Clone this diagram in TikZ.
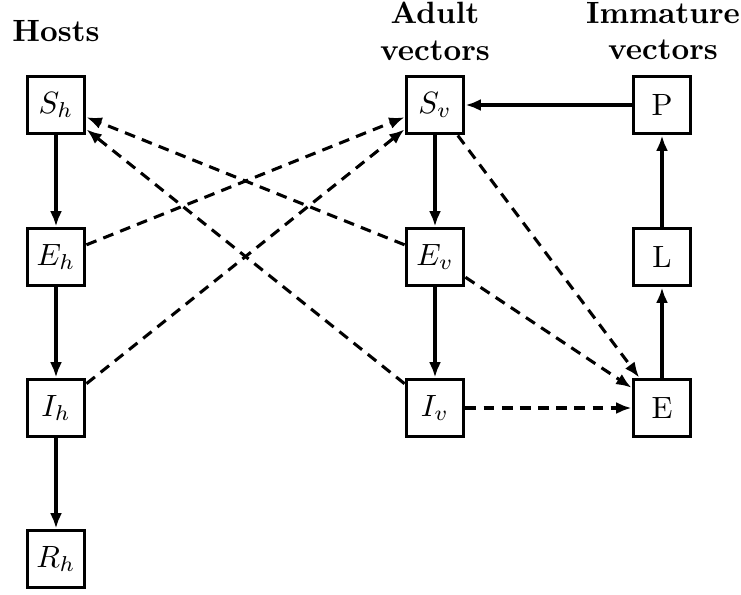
\documentclass[tikz,border=0pt]{standalone}
\usetikzlibrary{arrows.meta}
\begin{document}
\begin{tikzpicture}[x=0.325pt,y=-0.325pt,
  box/.style={draw,line width=1pt,minimum size=18.8pt,inner sep=0pt},
  flow/.style={-{Latex[length=5pt,width=3.9pt]},line width=1pt},
  infect/.style={flow,dash pattern=on 3.5pt off 2.4pt},
  hdr/.style={font=\bfseries,align=center}]
\useasboundingbox (0,0) rectangle (741,594);
% headers
\node[hdr] (hh) at (56,31) {Hosts};
\node[hdr] (ha) at (435,31) {Adult\\vectors};
\node[hdr] (hi) at (663,31) {Immature\\vectors};
% host boxes
\node[box] (Sh) at (56,105) {$S_h$};
\node[box] (Eh) at (56,257) {$E_h$};
\node[box] (Ih) at (56,408) {$I_h$};
\node[box] (Rh) at (56,559) {$R_h$};
% adult vector boxes
\node[box] (Sv) at (435,105) {$S_v$};
\node[box] (Ev) at (435,257) {$E_v$};
\node[box] (Iv) at (435,408) {$I_v$};
% immature boxes
\node[box] (P) at (662,105) {P};
\node[box] (L) at (662,257) {L};
\node[box] (E) at (662,408) {E};
% solid flows
\draw[flow] (Sh) -- (Eh);
\draw[flow] (Eh) -- (Ih);
\draw[flow] (Ih) -- (Rh);
\draw[flow] (Sv) -- (Ev);
\draw[flow] (Ev) -- (Iv);
\draw[flow] (P) -- (Sv);
\draw[flow] (L) -- (P);
\draw[flow] (E) -- (L);
% dashed interactions
\draw[infect] (Eh) -- (Sv);
\draw[infect] (Ih) -- (Sv);
\draw[infect] (Ev) -- (Sh);
\draw[infect] (Iv) -- (Sh);
\draw[infect] (Sv) -- (E);
\draw[infect] (Ev) -- (E);
\draw[infect] (Iv) -- (E);
\end{tikzpicture}
\end{document}
